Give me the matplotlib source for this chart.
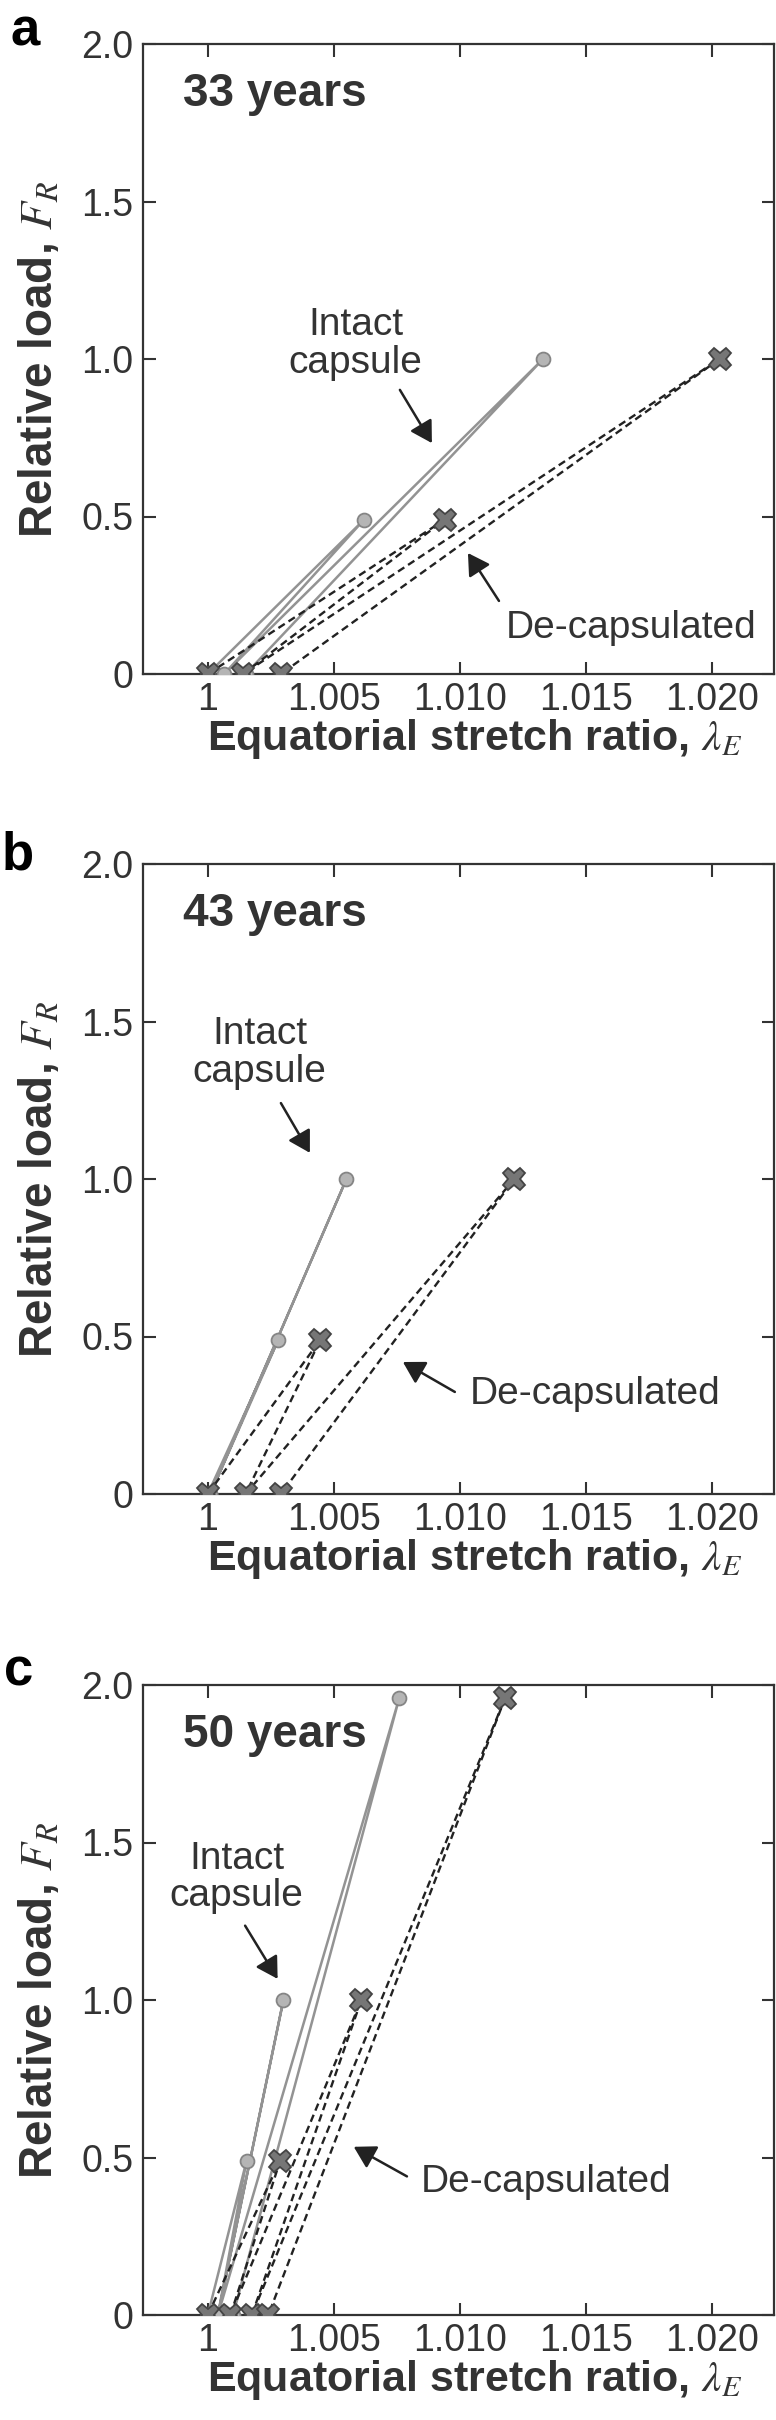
import matplotlib
matplotlib.use("Agg")
import matplotlib.pyplot as plt

plt.rcParams['font.family'] = ['Liberation Sans', 'DejaVu Sans']
plt.rcParams['mathtext.fontset'] = 'stix'

# ---------------- data ----------------
ages = ["33 years", "43 years", "50 years"]
panel_letters = ["a", "b", "c"]

a_intact_x = [1.0000, 1.0062, 1.00065, 1.0133, 1.0015]
a_intact_y = [0, 0.49, 0, 1.0, 0]
a_decap_x = [1.0000, 1.0094, 1.0014, 1.0203, 1.0029]
a_decap_y = [0, 0.49, 0, 1.0, 0]

b_intact_x = [1.0000, 1.0028, 1.0001, 1.0055, 1.0001]
b_intact_y = [0, 0.49, 0, 1.0, 0]
b_decap_x = [1.0000, 1.00447, 1.0015, 1.01216, 1.0029]
b_decap_y = [0, 0.49, 0, 1.0, 0]

c_intact_x = [1.0000, 1.00154, 1.0004, 1.0030, 1.0004, 1.0076, 1.0010]
c_intact_y = [0, 0.49, 0, 1.0, 0, 1.96, 0]
c_decap_x = [1.0000, 1.00287, 1.0009, 1.00609, 1.00175, 1.0118, 1.0024]
c_decap_y = [0, 0.49, 0, 1.0, 0, 1.96, 0]

x_ticks = [1.0, 1.005, 1.010, 1.015, 1.020]
x_ticklabels = ["1", "1.005", "1.010", "1.015", "1.020"]
y_ticks = [0, 0.5, 1.0, 1.5, 2.0]
y_ticklabels = ["0", "0.5", "1.0", "1.5", "2.0"]

# annotation positions (data coords): text centre, arrow tail, arrow head
intact_text = [(1.00587, 1.048), (1.00206, 1.40), (1.00115, 1.389)]
intact_tail = [(1.00762, 0.902), (1.00290, 1.241), (1.00148, 1.236)]
intact_head = [(1.00889, 0.733), (1.00405, 1.083), (1.00277, 1.067)]
decap_text = [(1.01679, 0.146), (1.01536, 0.317), (1.01344, 0.423)]
decap_tail = [(1.01155, 0.232), (1.00980, 0.324), (1.00790, 0.440)]
decap_head = [(1.01032, 0.384), (1.00774, 0.419), (1.00579, 0.534)]

intact_sets = [(a_intact_x, a_intact_y), (b_intact_x, b_intact_y), (c_intact_x, c_intact_y)]
decap_sets = [(a_decap_x, a_decap_y), (b_decap_x, b_decap_y), (c_decap_x, c_decap_y)]

# ---------------- figure ----------------
W, H = 776, 2420
fig = plt.figure(figsize=(W / 100, H / 100), dpi=100)
fig.patch.set_facecolor("white")

ax_left, ax_right = 143, 774
ax_tops = [44, 864, 1685]
ax_h = 630
letter_pos = [(10, 46), (2, 869), (4, 1686)]

dark = "#333333"

for i in range(3):
    top = ax_tops[i]
    ax = fig.add_axes([ax_left / W, (H - top - ax_h) / H, (ax_right - ax_left) / W, ax_h / H])
    ix, iy = intact_sets[i]
    dx, dy = decap_sets[i]
    ax.plot(ix, iy, color="#939393", lw=1.8, marker="o", ms=10,
            mfc="#b5b5b5", mec="#858585", mew=1.3, zorder=3)
    ax.plot(dx, dy, color="#222222", lw=1.7, ls=(0, (3.2, 1.9)), marker="X", ms=16,
            mfc="#767676", mec="#444444", mew=1.3, zorder=4)

    ax.set_xlim(0.99743, 1.02246)
    ax.set_ylim(0, 2.0)
    ax.set_xticks(x_ticks)
    ax.set_xticklabels(x_ticklabels)
    ax.set_yticks(y_ticks)
    ax.set_yticklabels(y_ticklabels)
    ax.tick_params(direction="in", length=9, width=1.5, top=True, right=True,
                   labelsize=27, colors=dark, pad=7)
    ax.tick_params(axis="x", pad=6)
    for s in ax.spines.values():
        s.set_linewidth(1.6)
        s.set_color(dark)

    ax.set_ylabel("Relative load, $F_R$", fontsize=33, fontweight="bold", color=dark)
    ax.yaxis.set_label_coords(-0.128, 0.5)
    ax.set_xlabel("Equatorial stretch ratio, $\\lambda_E$", fontsize=31, fontweight="bold",
                  color=dark)
    ax.xaxis.set_label_coords(0.525, -0.068)

    ax.text(0.99901, 1.84, ages[i], fontsize=33, fontweight="bold", color=dark,
            ha="left", va="center")

    tx, ty = intact_text[i]
    ax.text(tx, ty, "Intact\ncapsule", fontsize=28, color=dark, ha="center", va="center",
            linespacing=1.05)
    ax.annotate("", xy=intact_head[i], xytext=intact_tail[i],
                arrowprops=dict(arrowstyle="-|>,head_length=0.65,head_width=0.38",
                                color="#222222", lw=1.8, mutation_scale=20,
                                shrinkA=0, shrinkB=0))
    tx, ty = decap_text[i]
    ax.text(tx, ty, "De-capsulated", fontsize=28, color=dark, ha="center", va="center")
    ax.annotate("", xy=decap_head[i], xytext=decap_tail[i],
                arrowprops=dict(arrowstyle="-|>,head_length=0.65,head_width=0.38",
                                color="#222222", lw=1.8, mutation_scale=20,
                                shrinkA=0, shrinkB=0))

    lx, ly = letter_pos[i]
    fig.text(lx / W, 1 - ly / H, panel_letters[i], fontsize=38, fontweight="bold",
             color="black", ha="left", va="baseline")

fig.savefig("out.png", dpi=100, facecolor="white")
